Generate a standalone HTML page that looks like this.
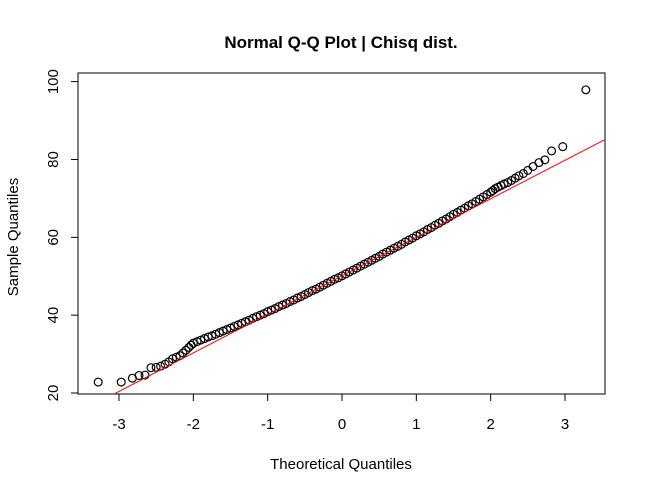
<!DOCTYPE html>
<html><head><meta charset="utf-8"><style>
body{margin:0;background:#fff}
svg text{font-family:"Liberation Sans",Arial,sans-serif;fill:#000}
</style></head><body>
<svg id="chart" width="646" height="493" viewBox="0 0 646 493" xmlns="http://www.w3.org/2000/svg">
<defs><clipPath id="plotclip"><rect x="78" y="73" width="527" height="321"/></clipPath></defs>
<text x="341" y="48" text-anchor="middle" font-size="17" font-weight="bold">Normal Q-Q Plot | Chisq dist.</text>
<rect x="78" y="73" width="527" height="321" fill="none" stroke="#000" stroke-width="1"/>
<g id="xaxis"></g>
<g id="yaxis"></g>
<text x="341" y="469" text-anchor="middle" font-size="15">Theoretical Quantiles</text>
<text transform="translate(18,237) rotate(-90)" text-anchor="middle" font-size="15">Sample Quantiles</text>
<g id="points"></g>
<g id="refline" clip-path="url(#plotclip)"></g>
</svg>
<script>
const xTicks=[-3,-2,-1,0,1,2,3];
const yTicks=[20,40,60,80,100];
const theo=[-3.28,-2.97,-2.82,-2.73,-2.65,-2.57,-2.5,-2.44,-2.38,-2.33,-2.28,-2.23,-2.18,-2.14,-2.1,-2.06,-2.03,
-2.0,-1.95,-1.9,-1.85,-1.8,-1.75,-1.7,-1.65,-1.6,-1.55,-1.5,-1.45,-1.4,-1.35,-1.3,-1.25,-1.2,-1.15,-1.1,-1.05,
-1.0,-0.95,-0.9,-0.85,-0.8,-0.75,-0.7,-0.65,-0.6,-0.55,-0.5,-0.45,-0.4,-0.35,-0.3,-0.25,-0.2,-0.15,-0.1,-0.05,0,
0.05,0.1,0.15,0.2,0.25,0.3,0.35,0.4,0.45,0.5,0.55,0.6,0.65,0.7,0.75,0.8,0.85,0.9,0.95,1.0,
1.05,1.1,1.15,1.2,1.25,1.3,1.35,1.4,1.45,1.5,1.55,1.6,1.65,1.7,1.75,1.8,1.85,1.9,1.95,2.0,
2.03,2.06,2.1,2.14,2.18,2.23,2.28,2.33,2.38,2.44,2.5,2.57,2.65,2.73,2.82,2.97,3.28];
const sample=[22.8,22.8,23.8,24.5,24.6,26.5,26.6,26.9,27.4,28,28.8,29.2,29.6,30.3,31.0,31.7,32.3,
32.8,33.2,33.6,34.0,34.4,34.7,35.1,35.5,35.9,36.3,36.7,37.1,37.5,37.9,38.3,38.7,39.2,39.6,40.0,40.4,
40.9,41.3,41.7,42.2,42.6,43.0,43.5,43.9,44.4,44.8,45.3,45.8,46.3,46.7,47.2,47.7,48.2,48.7,49.2,49.6,50.1,
50.6,51.1,51.6,52.1,52.6,53.1,53.6,54.1,54.6,55.1,55.7,56.2,56.7,57.2,57.7,58.2,58.8,59.3,59.8,60.4,
60.9,61.4,62.0,62.5,63.1,63.6,64.2,64.7,65.3,65.9,66.4,67.0,67.5,68.1,68.6,69.2,69.8,70.4,71.0,71.6,
72.0,72.5,72.9,73.3,73.7,74.1,74.6,75.2,75.8,76.4,77.2,78.2,79.2,79.9,82.2,83.3,97.9];
const lineIntercept=50.1, lineSlope=9.9;
const X=v=>342+(v*74.33), Y=v=>393-(v-20)*3.892;
const NS='http://www.w3.org/2000/svg';
function mk(t,a,p){const e=document.createElementNS(NS,t);for(const k in a)e.setAttribute(k,a[k]);p.appendChild(e);return e;}
const xa=document.getElementById('xaxis'),ya=document.getElementById('yaxis');
mk('line',{x1:X(-3),x2:X(3),y1:394,y2:394,stroke:'#000'},xa);
xTicks.forEach(t=>{
 const l=mk('line',{x1:X(t),x2:X(t),y1:394,y2:401,stroke:'#000'},xa);
 
 
 const tx=mk('text',{x:X(t),y:429,'text-anchor':'middle','font-size':'15'},xa);tx.textContent=t;
 
 
});
mk('line',{x1:78,x2:78,y1:Y(20),y2:Y(100),stroke:'#000'},ya);
yTicks.forEach(t=>{
 const l=mk('line',{x1:71,x2:78,y1:Y(t),y2:Y(t),stroke:'#000'},ya);
 
 
 const tx=mk('text',{transform:`translate(58,${Y(t)}) rotate(-90)`,'text-anchor':'middle','font-size':'15'},ya);tx.textContent=t;
 
 
});
const pg=document.getElementById('points');
theo.forEach((t,i)=>{
 const c=mk('circle',{cx:X(t),cy:Y(sample[i]),r:3.9,fill:'none',stroke:'#000','stroke-width':1.2},pg);
 
 
});
const rl=mk('line',{x1:X(-3.5),y1:Y(lineIntercept+lineSlope*-3.5),x2:X(3.6),y2:Y(lineIntercept+lineSlope*3.6),stroke:'#ff0000','stroke-width':1},document.getElementById('refline'));


</script>
</body></html>
